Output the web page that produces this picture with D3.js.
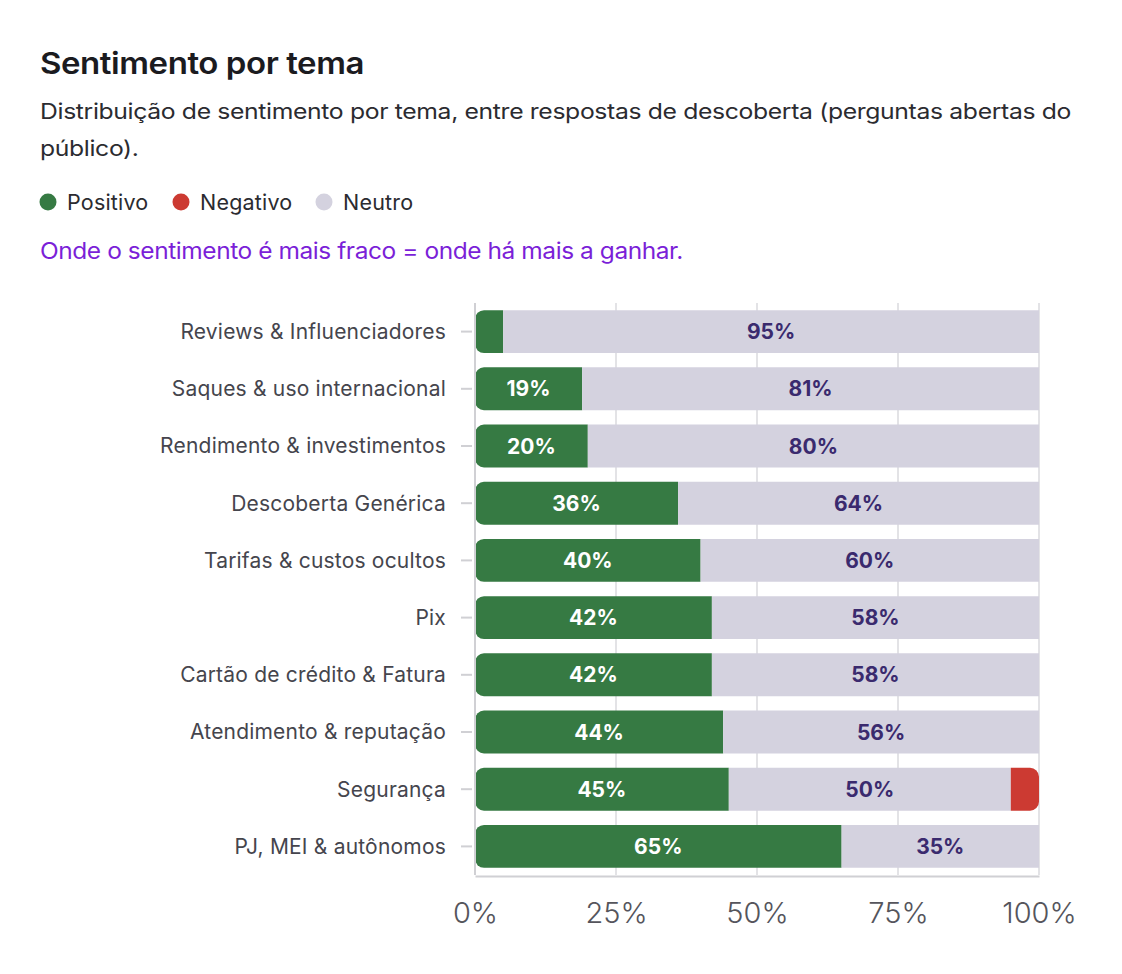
<!DOCTYPE html>
<html>
<head>
<meta charset="utf-8">
<script src="https://cdn.jsdelivr.net/npm/d3@7"></script>
<style>
  html, body { margin: 0; padding: 0; background: #ffffff; }
  svg { display: block; font-family: "Inter", "Noto Sans", sans-serif; }
</style>
</head>
<body>
<svg id="chart" width="1122" height="974"></svg>
<script>
const categories = [
  "Reviews & Influenciadores",
  "Saques & uso internacional",
  "Rendimento & investimentos",
  "Descoberta Genérica",
  "Tarifas & custos ocultos",
  "Pix",
  "Cartão de crédito & Fatura",
  "Atendimento & reputação",
  "Segurança",
  "PJ, MEI & autônomos"
];
const positivo = [5, 19, 20, 36, 40, 42, 42, 44, 45, 65];
const neutro   = [95, 81, 80, 64, 60, 58, 58, 56, 50, 35];
const negativo = [0, 0, 0, 0, 0, 0, 0, 0, 5, 0];
const tickValues = [0, 25, 50, 75, 100];
const seriesNames = ["Positivo", "Neutro", "Negativo"];
const legendNames = ["Positivo", "Negativo", "Neutro"];

const colors = { Positivo: "#367a43", Negativo: "#cc3a32", Neutro: "#d4d2df" };
const labelColors = { Positivo: "#ffffff", Neutro: "#3a2a6e", Negativo: "#ffffff" };

const svg = d3.select("#chart");

// Stretch a text element horizontally to a target width (glyphs + spacing)
function stretch(sel, target) {
  const w = sel.node().getComputedTextLength();
  const ratio = target / w;
  sel.attr("textLength", target).attr("lengthAdjust", "spacingAndGlyphs");
  return ratio;
}

// Title & texts
const title = svg.append("text").attr("x", 40).attr("y", 74)
  .attr("font-size", 30).attr("font-weight", 600).attr("fill", "#1b1b1f")
  .attr("letter-spacing", -0.4)
  .text("Sentimento por tema");
stretch(title, 324);
const sub1 = svg.append("text").attr("x", 40).attr("y", 119)
  .attr("font-size", 21.5).attr("fill", "#2b2b30").attr("letter-spacing", -0.3)
  .text("Distribuição de sentimento por tema, entre respostas de descoberta (perguntas abertas do");
const ratio = stretch(sub1, 1031);
const sub2 = svg.append("text").attr("x", 40).attr("y", 156)
  .attr("font-size", 21.5).attr("fill", "#2b2b30").attr("letter-spacing", -0.3)
  .text("público).");
stretch(sub2, sub2.node().getComputedTextLength() * ratio);

// Legend
const legendX = [48, 181, 324];
const legendG = svg.append("g");
legendNames.forEach((n, i) => {
  legendG.append("circle").attr("cx", legendX[i]).attr("cy", 202).attr("r", 8.5).attr("fill", colors[n]);
  legendG.append("text").attr("x", legendX[i] + 19).attr("y", 210)
    .attr("font-size", 21.5).attr("fill", "#2b2b30").attr("letter-spacing", 0.2).text(n);
});

const note = svg.append("text").attr("x", 40).attr("y", 259)
  .attr("font-size", 22.5).attr("fill", "#7b1fd8").attr("letter-spacing", -0.4)
  .text("Onde o sentimento é mais fraco = onde há mais a ganhar.");
stretch(note, 643);

// Scales
const x = d3.scaleLinear().domain([0, 100]).range([475, 1039]);
const y = d3.scaleBand().domain(categories).range([303, 875]).paddingInner(0.25).paddingOuter(0.125);

// Gridlines
svg.append("g").selectAll("line").data(tickValues.slice(1)).join("line")
  .attr("x1", d => x(d)).attr("x2", d => x(d))
  .attr("y1", 303).attr("y2", 875)
  .attr("stroke", "#e3e3e6").attr("stroke-width", 2);

// Data rows
const rows = categories.map((c, i) => ({ cat: c, Positivo: positivo[i], Neutro: neutro[i], Negativo: negativo[i] }));
const stack = d3.stack().keys(seriesNames)(rows);

const r = 9;
function segPath(x0, x1, y0, h, roundLeft, roundRight) {
  const w = x1 - x0;
  const rl = roundLeft ? Math.min(r, w / 2, h / 2) : 0;
  const rr = roundRight ? Math.min(r, w / 2, h / 2) : 0;
  const p = d3.path();
  p.moveTo(x0 + rl, y0);
  p.lineTo(x1 - rr, y0);
  if (rr) p.arcTo(x1, y0, x1, y0 + rr, rr);
  p.lineTo(x1, y0 + h - rr);
  if (rr) p.arcTo(x1, y0 + h, x1 - rr, y0 + h, rr);
  p.lineTo(x0 + rl, y0 + h);
  if (rl) p.arcTo(x0, y0 + h, x0, y0 + h - rl, rl);
  p.lineTo(x0, y0 + rl);
  if (rl) p.arcTo(x0, y0, x0 + rl, y0, rl);
  p.closePath();
  return p.toString();
}

const barsG = svg.append("g");
stack.forEach(layer => {
  const key = layer.key;
  layer.forEach(seg => {
    const v = seg[1] - seg[0];
    if (v <= 0) return;
    const isFirst = seg[0] === 0;
    const isLast = key === "Negativo";
    barsG.append("path")
      .attr("d", segPath(x(seg[0]), x(seg[1]), y(seg.data.cat), y.bandwidth(), isFirst, isLast))
      .attr("fill", colors[key]);
    if (v >= 10) {
      barsG.append("text")
        .attr("x", (x(seg[0]) + x(seg[1])) / 2)
        .attr("y", y(seg.data.cat) + y.bandwidth() / 2 + 7.5)
        .attr("text-anchor", "middle")
        .attr("font-size", 21).attr("font-weight", 700)
        .attr("fill", labelColors[key])
        .text(v + "%");
    }
  });
});

// Y axis
const yAxis = svg.append("g").attr("transform", "translate(475,0)")
  .call(d3.axisLeft(y).tickSize(14).tickPadding(14));
yAxis.select(".domain").attr("stroke", "#d0d0d4").attr("stroke-width", 2).attr("d", "M0,303V875");
yAxis.selectAll(".tick line").attr("stroke", "#d0d0d4").attr("stroke-width", 2).attr("x2", -14).attr("x1", -3);
yAxis.selectAll(".tick text").attr("font-size", 21).attr("fill", "#45454d")
  .attr("font-family", "Inter, sans-serif").attr("dy", "0.35em").attr("x", -29)
  .attr("letter-spacing", 0.2);

// X axis
const xAxis = svg.append("g").attr("transform", "translate(0,876)")
  .call(d3.axisBottom(x).tickValues(tickValues).tickFormat(d => d + "%").tickSize(0).tickPadding(26));
xAxis.select(".domain").attr("stroke", "#d0d0d4").attr("stroke-width", 2);
xAxis.selectAll(".tick text").attr("font-size", 29).attr("font-weight", 300)
  .attr("fill", "#55555c").attr("font-family", "Inter, sans-serif");
</script>
</body>
</html>
